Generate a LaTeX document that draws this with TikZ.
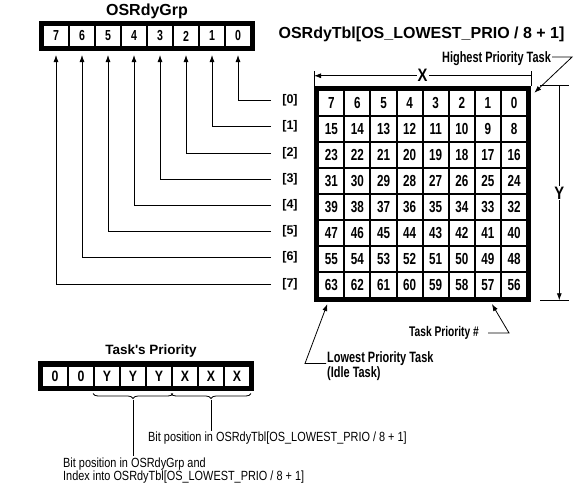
\documentclass[tikz,border=0pt]{standalone}
\usepackage{fontspec}
\setmainfont{Liberation Sans}
\newfontfamily\narrowfont[FakeStretch=0.82]{Liberation Sans}
\newfontfamily\condfont[FakeStretch=0.73]{Liberation Sans}
\usepackage{tikz}
\usetikzlibrary{arrows.meta,positioning,calc,fit,decorations.pathreplacing}

\tikzset{
	cellbase/.style={draw, line width=2pt, inner sep=0pt},
	tblcell/.style={cellbase, minimum width=26.1pt, minimum height=26pt,
		font=\condfont\bfseries\fontsize{16}{16}\selectfont},
	bitcell/.style={cellbase, minimum width=26pt, minimum height=22pt,
		font=\condfont\bfseries\fontsize{14.5}{14.5}\selectfont},
	framebox/.style={draw, line width=4.5pt, inner sep=1pt},
	rowlbl/.style={inner sep=0pt, font=\bfseries\fontsize{12.5}{12.5}\selectfont},
	titletext/.style={font=\bfseries\fontsize{16}{16}\selectfont},
	dimlbl/.style={fill=white, inner sep=1pt, font=\narrowfont\bfseries\fontsize{18}{18}\selectfont},
	note/.style={inner sep=1pt, font=\condfont\bfseries\fontsize{15}{12.5}\selectfont},
	smallnote/.style={inner sep=1pt, font=\narrowfont\fontsize{13.3}{11.5}\selectfont},
	conn/.style={line width=0.8pt},
	arr/.style={-{Latex[length=7pt,width=5pt]}}
}

\begin{document}
\begin{tikzpicture}[x=1pt,y=-1pt]
	
	\useasboundingbox (0,0) rectangle (580,491);
	
	% OSRdyGrp
	\node[titletext] (grptitle) at (147,11.5) {OSRdyGrp};
	\foreach \c in {0,...,7}
		\node[bitcell] (g\c) at ({238-26*\c},36) {\c};
	\node[framebox, fit=(g7)(g0)] (grp) {};
	
	% OSRdyTbl
	\node[titletext] (tbltitle) at (421.5,34) {OSRdyTbl[OS\_LOWEST\_PRIO / 8 + 1]};
	\foreach \r in {0,...,7}
		\foreach \c in {0,...,7}
		{
			\pgfmathtruncatemacro\n{8*\r+\c}
			\node[tblcell] (t-\r-\c) at ({514-26.1*\c},{103+26*\r}) {\n};
		}
	\node[framebox, fit=(t-0-7)(t-7-0)] (tbl) {};
	
	% row index -> bit in OSRdyGrp
	\foreach \r in {0,...,7}
	{
		\node[rowlbl] (r\r) at (290,{100.5+26.2*\r}) {[\r]};
		\draw[conn,arr,shorten <=11pt,shorten >=7pt]
		(r\r.west) -| (g\r.south);
	}
	
	% X
	\draw[conn] (tbl.north west) -- ++(0,-15);
	\draw[conn] (tbl.north east) -- ++(0,-15);
	\coordinate (xright) at ($(tbl.north east)+(0,-10)$);
	\coordinate (xleft) at ($(tbl.north west)+(0,-10)$);
	\draw[conn,arr]
	(xright) -- node[dimlbl] {X} (xleft);
	
	% Y
	\draw[conn] ($(tbl.north east)+(9,0)$) -- ++(29,0);
	\draw[conn] ($(tbl.south east)+(9,-2)$) -- ++(29,0);
	\coordinate (ytop) at ($(tbl.north east)+(28,0)$);
	\coordinate (ybot) at ($(tbl.south east)+(28,-2)$);
	\draw[conn,arr]
	(ytop) -- node[dimlbl] {Y} (ybot);
	
	% notes
	\node[note] (hpt) at (496.5,59) {Highest Priority Task};
	\coordinate (hptip) at ($(tbl.north east)+(3,7)$);
	\draw[conn,arr]
	([yshift=2pt]hpt.east) -- ++(20,0) -- (hptip);
	
	\node[note, font=\condfont\bfseries\fontsize{14}{14}\selectfont] (tpn) at (444,333) {Task Priority \#};
	\coordinate (tptip) at ($(t-7-1.south)+(4,5)$);
	\draw[conn,arr]
	([xshift=8pt]tpn.east) -- ++(21,0) -- (tptip);
	
	\node[note, align=left, anchor=west] (lpt) at (326,366.5) {Lowest Priority Task\\(Idle Task)};
	\coordinate (lptip) at ($(t-7-7.south)+(-4,5)$);
	\draw[conn,arr]
	([yshift=3pt]lpt.west) -- ++(-21,0) -- (lptip);
	
	% Task's Priority
	\node[titletext, font=\bfseries\fontsize{13.5}{13.5}\selectfont] (prtitle) at (151,350.5) {Task\textquotesingle s Priority};
	\foreach \c/\v in {0/X,1/X,2/X,3/Y,4/Y,5/Y,6/0,7/0}
		\node[bitcell, minimum height=21pt, font=\narrowfont\bfseries\fontsize{15}{15}\selectfont]
		(p\c) at ({237-26*\c},376) {\v};
	\node[framebox, fit=(p7)(p0)] (pri) {};
	
	\draw[conn, decorate, decoration={brace, mirror, amplitude=5pt}]
	($(p5.south west)+(0,6)$) -- ($(p3.south east)+(0,6)$);
	\draw[conn, decorate, decoration={brace, mirror, amplitude=5pt}]
	($(p2.south west)+(0,6)$) -- ($(p0.south east)+(0,6)$);
	\coordinate (ybrace) at ($(p4.south)+(0,12)$);
	\coordinate (xbrace) at ($(p1.south)+(0,12)$);
	
	\node[smallnote, anchor=west] (bitx) at (147,438)
	{Bit position in OSRdyTbl[OS\_LOWEST\_PRIO / 8 + 1]};
	\draw[conn] (xbrace) -- (xbrace |- bitx.north);
	
	\node[smallnote, anchor=west, align=left] (bity) at (62,470.5)
	{Bit position in OSRdyGrp and\\Index into OSRdyTbl[OS\_LOWEST\_PRIO / 8 + 1]};
	\draw[conn] (ybrace) -- (ybrace |- bity.north);
	
\end{tikzpicture}
\end{document}
